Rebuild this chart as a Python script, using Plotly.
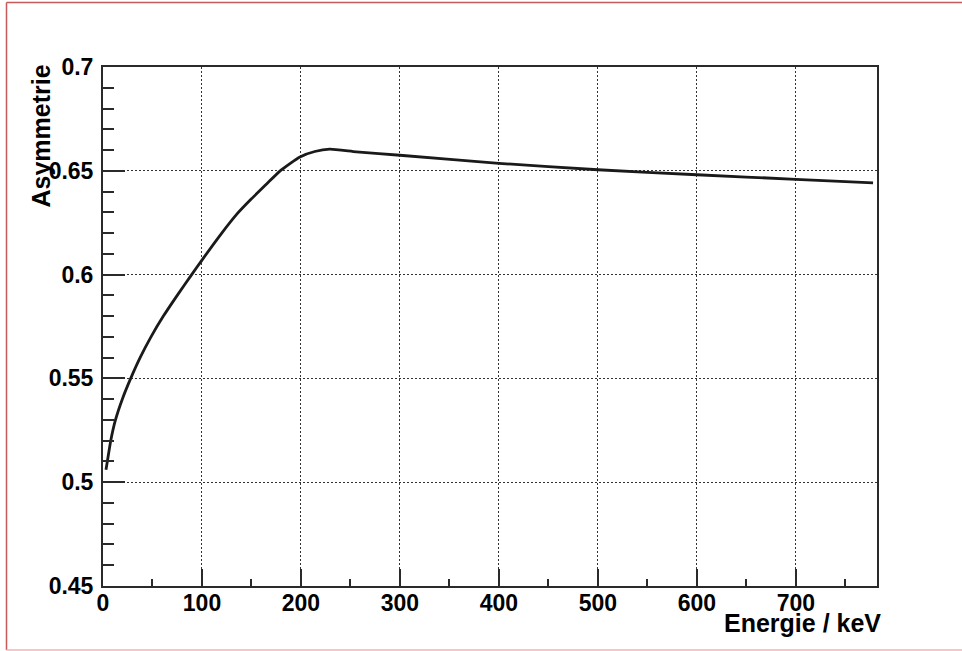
import plotly.graph_objects as go

# Asymmetry as a function of deposited energy
energy = [3, 4.4, 7.8, 12.6, 19.5, 28, 37.5, 48.5, 61, 75, 89.6, 100, 120, 135,
          150, 165, 179, 199, 214, 229, 256, 300, 400, 500, 600, 700, 778]
asym = [0.506, 0.510, 0.520, 0.530, 0.540, 0.550, 0.560, 0.570, 0.580, 0.590,
        0.600, 0.607, 0.620, 0.629, 0.6365, 0.6435, 0.6500, 0.6567, 0.6593,
        0.6604, 0.6591, 0.6575, 0.6536, 0.6505, 0.6481, 0.6459, 0.6442]

x_ticks = [0, 100, 200, 300, 400, 500, 600, 700]
x_labels = ["0", "100", "200", "300", "400", "500", "600", "700"]
y_ticks = [0.45, 0.5, 0.55, 0.6, 0.65, 0.7]
y_labels = ["0.45", "0.5", "0.55", "0.6", "0.65", "0.7"]

x_title = "Energie / keV"
y_title = "Asymmetrie"

FONT = "Liberation Sans, Arial, Helvetica, sans-serif"
W, H = 962, 651
L, R, T, B = 103, 85, 67, 65
pw, ph = W - L - R, H - T - B


def px_to_paper_x(px):
    return (px - L) / pw


def px_to_paper_y(py):
    return (H - B - py) / ph


fig = go.Figure()
fig.add_trace(go.Scatter(
    x=energy, y=asym, mode="lines",
    line=dict(color="#1a1a1a", width=2.8, shape="spline", smoothing=0.5),
    showlegend=False, hoverinfo="skip",
))

axis_common = dict(
    showline=True, linecolor="#2a2a2a", linewidth=2, mirror=True,
    ticks="inside", tickcolor="#2a2a2a", tickwidth=1.5,
    showgrid=True, gridcolor="#333333", gridwidth=1, griddash="1.5px,2.5px",
    zeroline=False,
    tickfont=dict(family=FONT, size=23, color="black", weight="bold"),
)

fig.update_xaxes(
    range=[0, 782], tickmode="array", tickvals=x_ticks, ticktext=x_labels,
    ticklen=17, ticklabelstandoff=-5,
    minor=dict(dtick=50, ticks="inside", ticklen=7, tickcolor="#2a2a2a",
               tickwidth=1.5, showgrid=False),
    **axis_common,
)
fig.update_yaxes(
    range=[0.45, 0.7], tickmode="array", tickvals=y_ticks, ticktext=y_labels,
    ticklen=22, ticklabelstandoff=3,
    minor=dict(dtick=0.01, ticks="inside", ticklen=11, tickcolor="#2a2a2a",
               tickwidth=1.5, showgrid=False),
    **axis_common,
)

annotations = [
    dict(text=x_title, xref="paper", yref="paper",
         x=px_to_paper_x(883), y=px_to_paper_y(607),
         xanchor="right", yanchor="top", showarrow=False,
         font=dict(family=FONT, size=25, color="black", weight="bold")),
    dict(text=y_title, xref="paper", yref="paper", textangle=-90,
         x=px_to_paper_x(25), y=px_to_paper_y(63),
         xanchor="left", yanchor="top", showarrow=False,
         font=dict(family=FONT, size=25, color="black", weight="bold")),
]

# canvas border
border = [
    dict(type="line", xref="paper", yref="paper",
         x0=px_to_paper_x(6.5), x1=px_to_paper_x(6.5),
         y0=px_to_paper_y(2.5), y1=px_to_paper_y(650),
         line=dict(color="#c65a5a", width=1.5)),
    dict(type="line", xref="paper", yref="paper",
         x0=px_to_paper_x(6.5), x1=px_to_paper_x(962),
         y0=px_to_paper_y(2.5), y1=px_to_paper_y(2.5),
         line=dict(color="#c65a5a", width=1.5)),
    dict(type="line", xref="paper", yref="paper",
         x0=px_to_paper_x(6.5), x1=px_to_paper_x(962),
         y0=px_to_paper_y(650), y1=px_to_paper_y(650),
         line=dict(color="#f3b3b3", width=1.5)),
]

fig.update_layout(
    width=W, height=H, autosize=False,
    margin=dict(l=L, r=R, t=T, b=B, pad=0),
    paper_bgcolor="white", plot_bgcolor="white",
    annotations=annotations, shapes=border,
    showlegend=False,
)

fig.write_html("out.html", config={"displayModeBar": False})
